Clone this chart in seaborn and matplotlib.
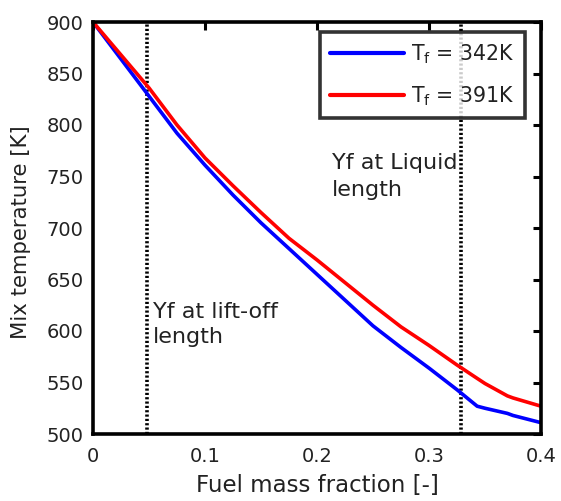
import numpy as np
import pandas as pd
import matplotlib
matplotlib.use("Agg")
import matplotlib.pyplot as plt
import seaborn as sns

# Fuel mass fraction samples and mix temperatures for two fuel temperatures
fuel_fraction = [0.0, 0.025, 0.05, 0.075, 0.1, 0.125, 0.15, 0.175, 0.2,
                 0.225, 0.25, 0.275, 0.3, 0.325, 0.343, 0.35, 0.37, 0.375, 0.4]
temp_342 = [900, 864, 828, 792, 761, 732, 705, 680, 655,
            630, 605, 584, 564, 543, 527, 525, 520, 518, 511]
temp_391 = [900, 868, 836, 800, 768, 741, 715, 690, 669,
            647, 625, 604, 586, 567, 554, 549, 537, 535, 527]
series_labels = ["T$_\\mathregular{f}$ = 342K", "T$_\\mathregular{f}$ = 391K"]
series_colors = ["#0000ff", "#ff0000"]

# Fuel fraction at lift-off length and at liquid length
yf_liftoff = 0.048
yf_liquid = 0.329

x_ticks = [0, 0.1, 0.2, 0.3, 0.4]
x_ticklabels = ["0", "0.1", "0.2", "0.3", "0.4"]
y_ticks = [500, 550, 600, 650, 700, 750, 800, 850, 900]

df = pd.DataFrame({
    "Fuel mass fraction": fuel_fraction * 2,
    "Mix temperature": temp_342 + temp_391,
    "series": [series_labels[0]] * len(fuel_fraction) + [series_labels[1]] * len(fuel_fraction),
})

sns.set_style("white")
plt.rcParams["font.family"] = ["DejaVu Sans"]
plt.rcParams["mathtext.fontset"] = "custom"
plt.rcParams["mathtext.rm"] = "DejaVu Sans"

W, H = 561, 501
fig = plt.figure(figsize=(W / 100, H / 100), dpi=100)
ax = fig.add_axes([93 / W, 1 - 434 / H, (541 - 93) / W, (434 - 22) / H])

sns.lineplot(data=df, x="Fuel mass fraction", y="Mix temperature", hue="series",
             palette=series_colors, linewidth=2.6, ax=ax, legend=True)

for xv in (yf_liftoff, yf_liquid):
    ax.axvline(xv, color="black", linestyle=(0, (0.6, 0.6)), linewidth=2.6, zorder=1)

txt_color = "#222222"
ax.text(0.0536, 613, "Yf at lift-off", fontsize=16, color=txt_color, va="baseline", ha="left")
ax.text(0.0536, 588, "length", fontsize=16, color=txt_color, va="baseline", ha="left")
ax.text(0.2134, 757, "Yf at Liquid", fontsize=16, color=txt_color, va="baseline", ha="left")
ax.text(0.2134, 731, "length", fontsize=16, color=txt_color, va="baseline", ha="left")

ax.set_xlim(0, 0.4)
ax.set_ylim(500, 900)
ax.set_xticks(x_ticks)
ax.set_xticklabels(x_ticklabels)
ax.set_yticks(y_ticks)
ax.tick_params(direction="in", length=6, width=2.2, labelsize=14,
               top=True, right=True, colors="black", labelcolor=txt_color)
ax.tick_params(axis="x", pad=9)
ax.tick_params(axis="y", pad=7)
for sp in ax.spines.values():
    sp.set_linewidth(2.6)
    sp.set_color("black")

ax.set_xlabel("")
ax.set_ylabel("")
fig.text(0.5 * (93 + 541) / W, 1 - 492 / H, "Fuel mass fraction [-]", fontsize=16.5,
         color=txt_color, ha="center", va="baseline")
fig.text(21 / W, 1 - 232 / H, "Mix temperature [K]", fontsize=15.3, rotation=90,
         color=txt_color, ha="center", va="center")

leg = ax.legend(loc="upper left", fontsize=14.8, frameon=True, fancybox=False,
                borderpad=0.5, handlelength=3.6, handletextpad=0.35,
                labelspacing=0.9, borderaxespad=0,
                bbox_to_anchor=(320 / W, 1 - 32 / H), bbox_transform=fig.transFigure)
leg.get_frame().set_edgecolor("black")
leg.get_frame().set_linewidth(2.6)
for line in leg.get_lines():
    line.set_linewidth(3.0)
for t in leg.get_texts():
    t.set_color(txt_color)

fig.savefig("out.png", dpi=100)
